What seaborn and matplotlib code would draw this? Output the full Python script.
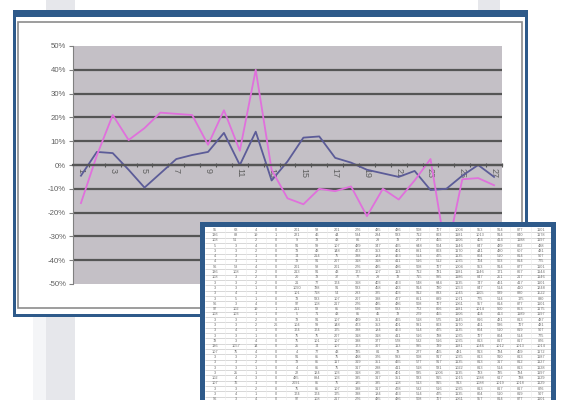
import numpy as np
import pandas as pd
import seaborn as sns
import matplotlib.pyplot as plt
from matplotlib.patches import Rectangle
from matplotlib.colors import ListedColormap

# chart data (percent), 27 periods
periods = list(range(1, 28))
series_blue = [-4.5, 5.5, 5, -2, -9.5, -3.5, 2.5, 4.2, 5.5, 13.5, 0, 14, -6.5, 1.5,
               11.5, 12, 3, 1, -2, -3.5, -5, -2.5, -10.5, -10, -4.5, 0, -5]
series_pink = [-16, 4, 21, 10.5, 15.5, 22, 21.5, 21, 8.5, 23, 6, 40, -2, -14,
               -16.5, -10, -11, -9, -21.5, -10, -14.5, -6.5, 2.5, -38, -6, -5.5, -8.5]
y_ticks = list(range(-50, 51, 10))
x_labels = [str(p) for p in periods if p % 2 == 1]

# spreadsheet overlay (values estimated, barely legible in the reference)
table_rows = [
    "95 63 4 0 201 98 201 276 485 486 508 707 1004 953 914 877 1101",
    "136 88 19 1 221 46 44 534 284 583 712 803 1181 1013 914 840 1178",
    "108 51 2 0 9 73 43 86 29 78 277 455 1106 403 414 1188 1197",
    "5 3 4 0 91 59 107 489 347 465 648 504 1146 847 489 802 488",
    "3 3 2 0 73 48 148 473 353 401 891 803 1170 441 480 607 481",
    "4 3 1 0 74 214 75 338 184 463 514 475 1135 804 510 814 907",
    "4 3 1 0 73 91 207 318 318 411 516 512 1035 704 503 814 775",
    "96 53 4 0 201 98 201 276 485 486 508 707 1004 953 914 877 1101",
    "136 108 2 0 213 91 43 173 107 113 712 781 1181 1146 171 867 1144",
    "108 3 2 0 20 73 37 77 29 78 715 595 1186 847 251 217 1146",
    "3 3 2 0 21 77 174 368 403 463 548 644 1135 747 461 417 1101",
    "3 3 1 0 1090 788 91 583 458 423 914 780 1053 847 514 410 1248",
    "3 4 1 0 101 718 54 293 325 403 912 833 1045 1105 589 880 1522",
    "3 5 1 0 73 583 107 207 388 477 861 889 1071 775 514 175 880",
    "96 3 4 0 97 108 217 276 485 486 508 707 1061 957 814 877 1101",
    "97 102 19 1 211 58 85 536 508 583 772 806 1181 1014 900 863 1175",
    "108 103 1 0 5 71 43 85 45 78 279 455 1106 404 413 1189 1197",
    "3 3 2 0 73 91 107 489 351 465 518 575 1145 816 481 813 487",
    "3 3 2 26 104 59 148 473 353 401 591 803 1170 461 586 707 481",
    "3 4 1 0 174 174 175 338 184 463 514 475 1135 804 510 819 907",
    "3 3 1 0 75 75 207 318 318 411 516 788 1035 707 804 514 775",
    "78 3 4 0 75 101 107 388 377 578 532 516 1035 813 817 817 876",
    "136 1057 14 0 25 74 107 173 307 113 595 789 1181 1046 1012 1013 1014",
    "107 75 4 0 4 77 43 785 81 78 277 455 481 913 784 459 1172",
    "3 3 2 0 91 85 75 488 376 593 508 917 1035 813 910 813 1187",
    "3 3 2 0 73 85 117 319 351 465 577 917 1135 813 317 812 1127",
    "3 3 1 0 4 85 75 317 288 411 518 581 1022 813 514 813 1128",
    "3 25 1 0 22 124 103 318 285 401 585 1006 1135 783 785 784 1197",
    "102 4 3 0 485 894 103 385 317 351 583 915 1015 1088 617 788 1129",
    "107 76 1 0 2091 85 75 185 385 108 513 915 913 1088 1019 1018 1129",
    "3 3 2 0 75 85 107 388 317 478 532 516 1035 813 817 817 876",
    "3 4 1 0 174 174 175 338 184 463 514 475 1135 804 510 819 907",
    "96 3 4 0 97 108 217 276 485 486 508 707 1061 957 814 877 1101",
]

W, H = 563, 400
NAVY = '#2e5a8a'


def px(x0, y0, x1, y1):
    # pixel box -> figure fraction
    return [x0 / W, 1 - y1 / H, (x1 - x0) / W, (y1 - y0) / H]


plt.rcParams['font.family'] = ['Liberation Sans', 'DejaVu Sans']
fig = plt.figure(figsize=(W / 100, H / 100), dpi=100)
fig.patch.set_facecolor('white')

# background page + chart frame
bg = fig.add_axes([0, 0, 1, 1], zorder=0)
bg.set_xlim(0, W)
bg.set_ylim(H, 0)
bg.axis('off')
bg.add_patch(Rectangle((33, 317), 14, 83, color='#f4f5f7', lw=0))
bg.add_patch(Rectangle((46, 0), 29, 400, color='#e6e7eb', lw=0))
bg.add_patch(Rectangle((478, 0), 22, 12, color='#e6e7eb', lw=0))
bg.add_patch(Rectangle((13, 10), 515, 307, color=NAVY, lw=0))
bg.add_patch(Rectangle((16, 17), 509, 297, color='white', lw=0))
bg.add_patch(Rectangle((18, 22), 504, 286, fill=False, ec='#8c8c8c', lw=1.2))

# the chart
ax = fig.add_axes(px(73, 46, 502, 284), zorder=1)
df = pd.DataFrame({'period': periods * 2,
                   'value': series_blue + series_pink,
                   'series': ['a'] * 27 + ['b'] * 27})
sns.lineplot(data=df, x='period', y='value', hue='series',
             palette={'a': '#5c5c98', 'b': '#e070dc'}, linewidth=1.3,
             legend=False, ax=ax)
ax.set_facecolor('#c4c0c6')
ax.set_xlim(0.5, 27.5)
ax.set_ylim(-50, 50)
ax.set_xlabel('')
ax.set_ylabel('')
ax.set_yticks(y_ticks)
ax.set_yticklabels([f'{v}%' for v in y_ticks], fontsize=5.6, color='#606060')
ax.tick_params(axis='y', length=3, width=0.8, color='#808080', pad=2)
for v in y_ticks[1:-1]:
    ax.axhline(v, color='#555555', lw=1.6, zorder=0.5)
ax.spines['top'].set_visible(False)
ax.spines['right'].set_visible(False)
ax.spines['left'].set_color('#808080')
ax.spines['bottom'].set_position(('data', 0))
ax.spines['bottom'].set_color('#555555')
ax.spines['bottom'].set_linewidth(1.6)
ax.set_xticks(np.arange(0.5, 28, 1))
ax.set_xticklabels([])
ax.tick_params(axis='x', which='major', length=3, direction='inout', color='#555555', width=0.8)
ax.set_xticks([p for p in periods if p % 2 == 1], minor=True)
ax.set_xticklabels(x_labels, minor=True, rotation=270, fontsize=6.5, color='#606060')
ax.tick_params(axis='x', which='minor', length=0, pad=2)

# spreadsheet overlay
ov = fig.add_axes([0, 0, 1, 1], zorder=2)
ov.set_xlim(0, W)
ov.set_ylim(H, 0)
ov.axis('off')
ov.add_patch(Rectangle((200, 222), 356, 190, color=NAVY, lw=0))

tab = pd.DataFrame([[int(v) for v in r.split()] for r in table_rows])
ta = fig.add_axes(px(205, 227, 551, 402), zorder=3)
sns.heatmap(tab, cmap=ListedColormap(['white']), cbar=False, annot=True, fmt='d',
            annot_kws={'size': 2.8, 'color': '#707070'},
            xticklabels=False, yticklabels=False, ax=ta)
ta.hlines(np.arange(1, len(tab)), 0, tab.shape[1], color='#c8c8c8', lw=0.5)
ta.vlines(np.arange(1, tab.shape[1]), 0, len(tab), color='#ececec', lw=0.4)

fig.savefig('out.png', dpi=100)
